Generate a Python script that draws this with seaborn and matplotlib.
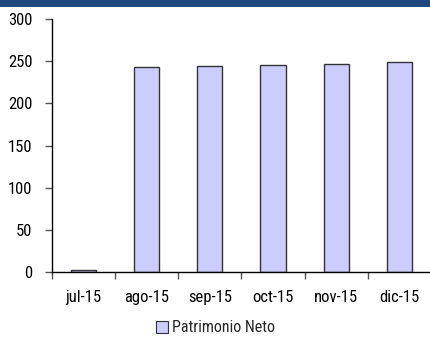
import matplotlib
matplotlib.use('Agg')
import matplotlib.pyplot as plt
import seaborn as sns
import numpy as np
from matplotlib.patches import Patch, Rectangle

# Data
months = ['jul-15', 'ago-15', 'sep-15', 'oct-15', 'nov-15', 'dic-15']
patrimonio = [2, 243.5, 244.5, 245.5, 247, 248.5]
series_name = 'Patrimonio Neto'

sns.set_theme(style='white')
# condensed sans, close to the narrow Arial of the original
plt.rcParams['font.family'] = ['Roboto Condensed', 'Liberation Sans', 'DejaVu Sans']

fig = plt.figure(figsize=(4.31, 3.38), dpi=100)
ax = fig.add_axes([0.12, 0.195, 0.88, 0.749])

# dark blue band along the top
fig.patches.append(Rectangle((0, 0.979), 1, 0.021, transform=fig.transFigure,
                             facecolor='#1F497D', edgecolor='none'))

sns.barplot(x=months, y=patrimonio, color='#CCCCFF', edgecolor='#333333',
            linewidth=1.0, width=0.4, saturation=1, ax=ax)

ax.set_ylim(0, 300)
ax.set_yticks(np.arange(0, 301, 50))
ax.set_xlim(-0.5, len(months) - 0.5)
ax.set_xlabel('')
ax.set_ylabel('')

# category labels centred, tick marks on category boundaries
ax.set_xticks(range(len(months)))
ax.set_xticklabels(months)
ax.set_xticks(np.arange(-0.5, len(months), 1), minor=True)
ax.tick_params(axis='x', which='major', length=0, pad=13, labelsize=12, colors='black')
ax.tick_params(axis='x', which='minor', length=5, width=1, color='#555555', bottom=True)
ax.tick_params(axis='y', length=5, width=1, color='#555555', pad=9, labelsize=12,
               left=True, labelcolor='black')

for side in ['top', 'right']:
    ax.spines[side].set_visible(False)
for side in ['left', 'bottom']:
    ax.spines[side].set_color('black')
    ax.spines[side].set_linewidth(1.0)

handle = Patch(facecolor='#CCCCFF', edgecolor='#333333', linewidth=0.8, label=series_name)
fig.legend(handles=[handle], loc='center', bbox_to_anchor=(0.5, 0.03), frameon=False,
           fontsize=11.5, handlelength=0.75, handleheight=0.75, handletextpad=0.2)

fig.savefig('out.png', dpi=100)
